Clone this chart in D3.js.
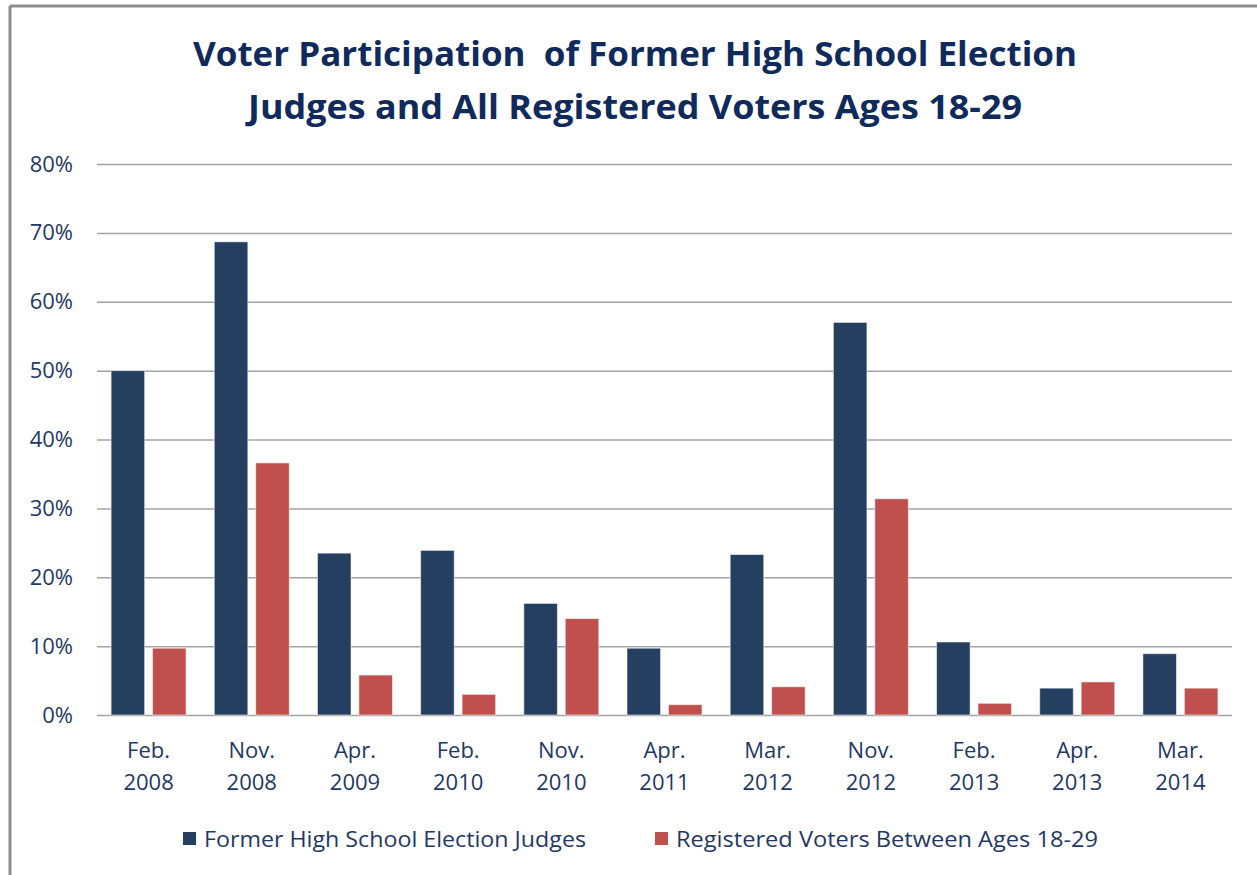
<!DOCTYPE html>
<html>
<head>
<meta charset="utf-8">
<script src="https://cdn.jsdelivr.net/npm/d3@7/dist/d3.min.js"></script>
<style>
  html, body { margin: 0; padding: 0; background: #fff; }
  svg { display: block; }
</style>
</head>
<body>
<svg id="chart" width="1257" height="875"></svg>
<script>
const categories = [
  ["Feb.", "2008"], ["Nov.", "2008"], ["Apr.", "2009"], ["Feb.", "2010"],
  ["Nov.", "2010"], ["Apr.", "2011"], ["Mar.", "2012"], ["Nov.", "2012"],
  ["Feb.", "2013"], ["Apr.", "2013"], ["Mar.", "2014"]
];
const seriesNames = ["Former High School Election Judges", "Registered Voters Between Ages 18-29"];
const judges = [50.0, 68.7, 23.5, 23.9, 16.2, 9.7, 23.3, 57.0, 10.6, 3.9, 8.9];
const voters = [9.7, 36.6, 5.8, 3.0, 14.0, 1.5, 4.1, 31.4, 1.7, 4.8, 3.9];
const yTicks = [0, 10, 20, 30, 40, 50, 60, 70, 80];
const titleLines = ["Voter Participation  of Former High School Election", "Judges and All Registered Voters Ages 18-29"];
const colors = ["#253F60", "#C0504D"];

(function () {
const svg = d3.select("#chart");
const textColor = "#1F3864";

// frame (left and top border)
svg.append("line").attr("x1", 10).attr("y1", 6).attr("x2", 1257).attr("y2", 6)
  .attr("stroke", "#8c8c8c").attr("stroke-width", 3);
svg.append("line").attr("x1", 10).attr("y1", 6).attr("x2", 10).attr("y2", 875)
  .attr("stroke", "#8c8c8c").attr("stroke-width", 3);

// title
const titleWidths = [884, 774];
const titleY = [66, 119];
titleLines.forEach((t, i) => {
  svg.append("text")
    .attr("x", 635).attr("y", titleY[i])
    .attr("text-anchor", "middle")
    .attr("font-family", "'Open Sans', sans-serif")
    .attr("font-weight", "bold")
    .attr("font-size", 34)
    .attr("fill", "#102A5C")
    .attr("textLength", titleWidths[i])
    .attr("lengthAdjust", "spacingAndGlyphs")
    .style("white-space", "pre")
    .text(t);
});

const pLeft = 97, pRight = 1232, pTop = 164, pBottom = 715;
const y = d3.scaleLinear().domain([0, 80]).range([pBottom, pTop]);
const x = d3.scaleBand().domain(d3.range(categories.length)).range([pLeft, pRight]).padding(0);
const inner = d3.scaleBand().domain([0, 1]).range([0, x.bandwidth()]).paddingInner(0.19).paddingOuter(0.34);

// gridlines
const grid = svg.append("g")
  .attr("transform", `translate(${pLeft},0)`)
  .call(d3.axisLeft(y).tickValues(yTicks).tickSize(-(pRight - pLeft)).tickFormat(""));
grid.select(".domain").remove();
grid.selectAll(".tick line").attr("stroke", "#A3A3A3").attr("stroke-width", 1.5);

// y labels
const yAxis = svg.append("g")
  .attr("transform", `translate(73,0)`)
  .call(d3.axisLeft(y).tickValues(yTicks).tickSize(0).tickPadding(0).tickFormat(d => d + "%"));
yAxis.select(".domain").remove();
yAxis.selectAll("text")
  .attr("font-family", "'Open Sans', sans-serif")
  .attr("font-size", 22)
  .attr("fill", textColor);

// bars
const data = [judges, voters];
data.forEach((vals, s) => {
  svg.append("g").selectAll("rect")
    .data(vals)
    .join("rect")
    .attr("x", (d, i) => x(i) + inner(s))
    .attr("y", d => y(d))
    .attr("width", inner.bandwidth())
    .attr("height", d => y(0) - y(d))
    .attr("fill", colors[s])
    .attr("stroke", "rgba(255,255,255,0.55)")
    .attr("stroke-width", 1);
});

// x labels
const xAxis = svg.append("g")
  .attr("transform", `translate(0,${pBottom})`)
  .call(d3.axisBottom(x).tickSize(0).tickFormat(""));
xAxis.select(".domain").remove();
xAxis.selectAll(".tick").each(function(d) {
  const t = d3.select(this).append("text")
    .attr("text-anchor", "middle")
    .attr("font-family", "'Open Sans', sans-serif")
    .attr("font-size", 22)
    .attr("fill", textColor);
  t.append("tspan").attr("x", 0).attr("y", 43).text(categories[d][0]);
  t.append("tspan").attr("x", 0).attr("y", 75).text(categories[d][1]);
});

// legend
const legendX = [183, 655];
const legendW = [382, 422];
seriesNames.forEach((name, i) => {
  const g = svg.append("g").attr("transform", `translate(${legendX[i]},839)`);
  g.append("rect").attr("x", 0).attr("y", -7).attr("width", 13).attr("height", 13).attr("fill", colors[i]);
  g.append("text").attr("x", 21).attr("y", 8)
    .attr("font-family", "'Open Sans', sans-serif")
    .attr("font-size", 22.5)
    .attr("fill", textColor)
    .attr("textLength", legendW[i])
    .attr("lengthAdjust", "spacingAndGlyphs")
    .text(name);
});
})();
</script>
</body>
</html>
